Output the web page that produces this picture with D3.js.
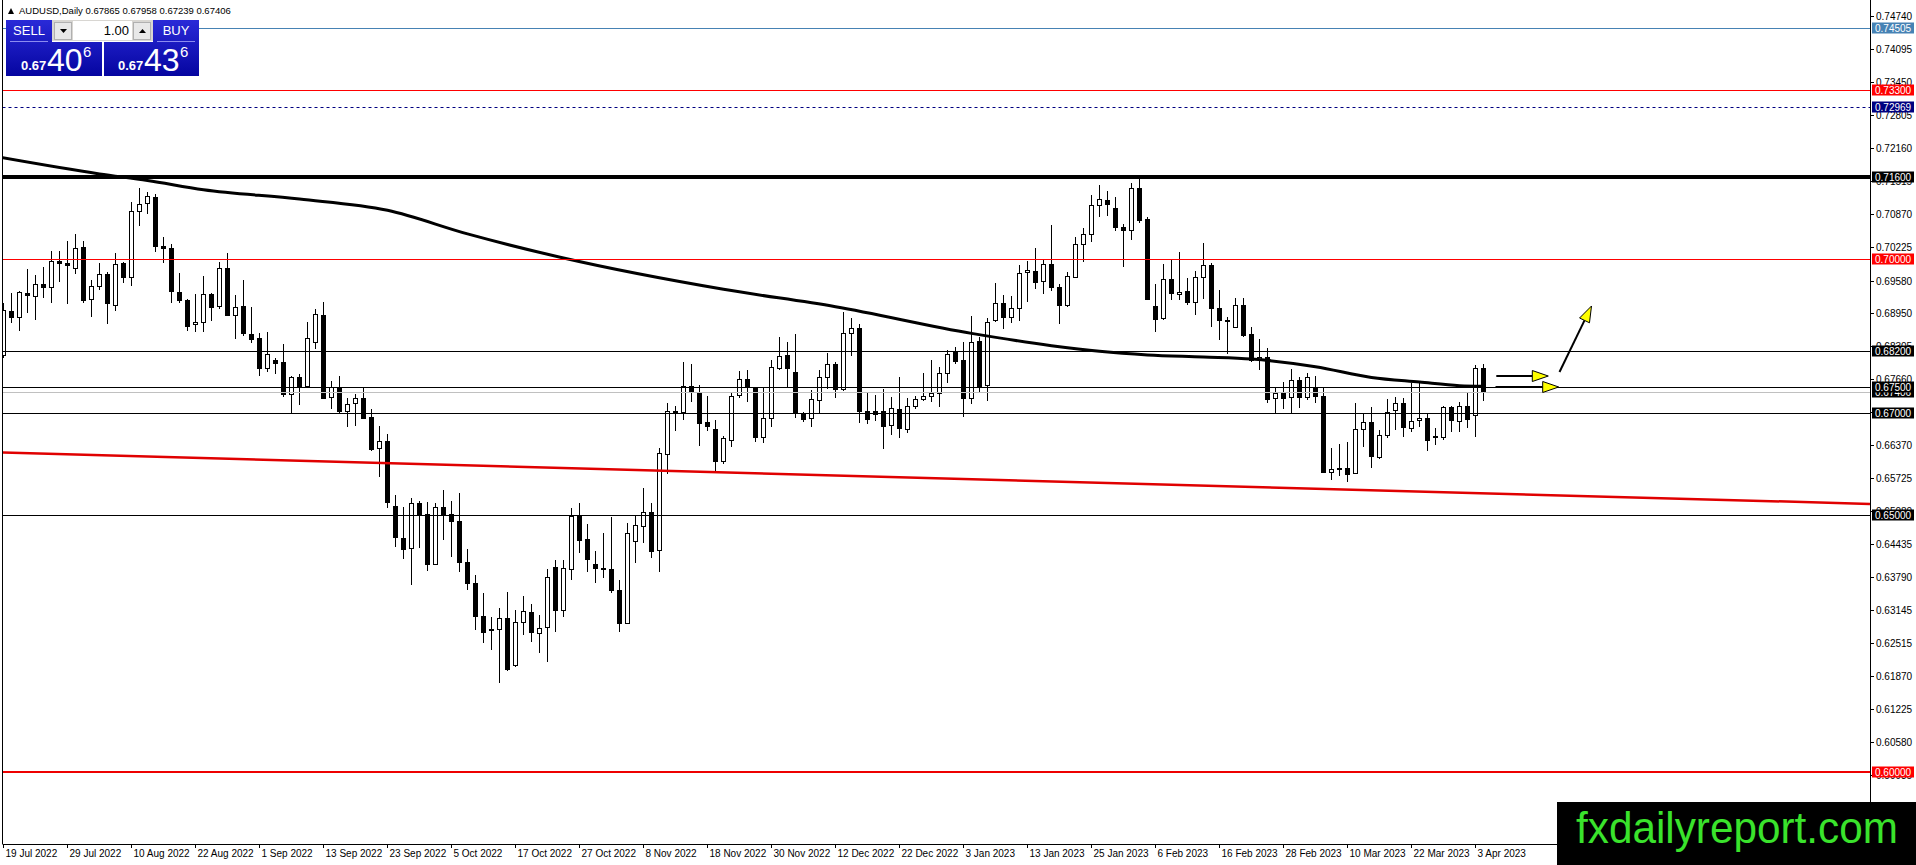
<!DOCTYPE html>
<html lang="en">
<head>
<meta charset="UTF-8">
<title>AUDUSD,Daily</title>
<style>
  html, body { margin: 0; padding: 0; background: #fff; overflow: hidden; }
  svg { display: block; font-family: "Liberation Sans", Arial, sans-serif; }
</style>
</head>
<body>
<svg id="chart" width="1916" height="865"></svg>
<script src="https://cdn.jsdelivr.net/npm/d3@7"></script>
<script>
// AUDUSD daily bars, bar 0 = 19 Jul 2022 ... bar 185 = 4 Apr 2023
const open = [
  0.68129,0.68993,0.68863,0.69331,0.69279,0.69507,0.69461,0.69962,0.69916,0.69819,
  0.70228,0.69214,0.69474,0.69702,0.69097,0.69916,0.69643,0.70937,0.71099,0.71203,
  0.70254,0.70209,0.69351,0.69201,0.68727,0.68766,0.69318,0.69084,0.69819,0.68909,
  0.69084,0.68538,0.68454,0.67869,0.68031,0.67992,0.67362,0.67693,0.67511,0.68389,
  0.68909,0.67303,0.67498,0.67037,0.67186,0.67284,0.66925,0.66308,0.66451,0.65183,
  0.64566,0.64358,0.65235,0.65021,0.64046,0.65157,0.65021,0.64891,0.64085,0.63675,
  0.63038,0.62785,0.62778,0.62993,0.62083,0.62915,0.63110,0.62720,0.62811,0.63987,
  0.63142,0.63948,0.64995,0.64533,0.64046,0.63968,0.63948,0.63545,0.62895,0.64501,
  0.64806,0.65073,0.64312,0.66210,0.67024,0.67024,0.67531,0.67414,0.66816,0.66679,
  0.66049,0.66484,0.67342,0.67654,0.67498,0.66523,0.66894,0.67888,0.68129,0.67797,
  0.66978,0.66894,0.67264,0.67693,0.67947,0.67459,0.68551,0.68649,0.67037,0.67043,
  0.67037,0.66751,0.67076,0.66699,0.67141,0.67264,0.67323,0.67381,0.67771,0.68194,
  0.68031,0.67284,0.68408,0.67531,0.68798,0.69136,0.68863,0.69039,0.69741,0.69767,
  0.69559,0.69897,0.69461,0.69104,0.69656,0.70287,0.70482,0.71054,0.71151,0.70989,
  0.70618,0.70553,0.71379,0.70774,0.69091,0.68844,0.69611,0.69331,0.69377,0.69169,
  0.69656,0.69884,0.69039,0.68811,0.68681,0.69104,0.68538,0.68051,0.68096,0.67303,
  0.67394,0.67303,0.67641,0.67303,0.67498,0.67329,0.65841,0.65919,0.65919,0.65821,
  0.66679,0.66816,0.66146,0.66569,0.67043,0.67186,0.66718,0.66848,0.66894,0.66549,
  0.66523,0.67108,0.66848,0.67134,0.66939,0.67865
];
const high = [
  0.69136,0.69331,0.69383,0.69806,0.69682,0.69851,0.70157,0.70157,0.70352,0.70488,
  0.70352,0.69591,0.69916,0.69754,0.70111,0.69936,0.71106,0.71379,0.71301,0.71262,
  0.70423,0.70287,0.69721,0.69221,0.69318,0.69669,0.69331,0.69936,0.70111,0.69299,
  0.69591,0.69058,0.68564,0.68577,0.68077,0.68343,0.67719,0.67758,0.68779,0.69019,
  0.69169,0.67622,0.67719,0.67284,0.67362,0.67492,0.67068,0.66743,0.66581,0.65398,
  0.65157,0.65333,0.65281,0.65255,0.65235,0.65495,0.65281,0.65430,0.64338,0.63838,
  0.63493,0.63012,0.63188,0.63500,0.63155,0.63428,0.63272,0.63058,0.63955,0.64130,
  0.64130,0.65138,0.65235,0.64832,0.64306,0.64650,0.64962,0.63740,0.64845,0.64988,
  0.65528,0.65235,0.66321,0.67185,0.67141,0.67999,0.67953,0.67544,0.67329,0.66861,
  0.66556,0.67407,0.67817,0.67836,0.67511,0.67511,0.68031,0.68473,0.68389,0.68538,
  0.67011,0.67446,0.67836,0.68161,0.67999,0.68961,0.68844,0.68733,0.67381,0.67349,
  0.67466,0.67303,0.67693,0.67284,0.67329,0.67771,0.68031,0.67888,0.68226,0.68278,
  0.68376,0.68889,0.68486,0.68844,0.69526,0.69299,0.69279,0.69884,0.69968,0.70209,
  0.69994,0.70664,0.69507,0.69754,0.70436,0.70599,0.71249,0.71444,0.71327,0.71216,
  0.70683,0.71476,0.71561,0.70826,0.69507,0.69897,0.69994,0.70144,0.69624,0.69773,
  0.70319,0.69916,0.69396,0.68876,0.69234,0.69234,0.68681,0.68441,0.68259,0.67479,
  0.67596,0.67856,0.67693,0.67771,0.67719,0.67511,0.66309,0.66393,0.66426,0.67186,
  0.66978,0.67121,0.66666,0.67264,0.67316,0.67284,0.67589,0.67589,0.66978,0.66699,
  0.67141,0.67141,0.67219,0.67401,0.67934,0.67958
];
const low = [
  0.68064,0.68746,0.68603,0.68954,0.68811,0.69247,0.69149,0.69559,0.69123,0.69702,
  0.69149,0.68876,0.69396,0.68727,0.68993,0.69539,0.69474,0.70651,0.70872,0.70131,
  0.69929,0.69136,0.69136,0.68603,0.68584,0.68584,0.68798,0.69032,0.68896,0.68434,
  0.68499,0.68369,0.67726,0.67804,0.67752,0.67316,0.66991,0.67147,0.67492,0.68246,
  0.67284,0.67069,0.67004,0.66718,0.66744,0.66874,0.66262,0.65755,0.65138,0.64390,
  0.64156,0.63643,0.64371,0.63922,0.64039,0.64520,0.64182,0.63903,0.63545,0.62765,
  0.62505,0.62375,0.61725,0.61966,0.62050,0.62668,0.62538,0.62310,0.62135,0.62733,
  0.63012,0.63740,0.64273,0.63903,0.63688,0.63786,0.63493,0.62733,0.62882,0.64078,
  0.64468,0.64163,0.63890,0.65807,0.66653,0.66861,0.67219,0.66361,0.66647,0.65873,
  0.66003,0.66341,0.67284,0.67219,0.66439,0.66419,0.66718,0.67836,0.67479,0.66894,
  0.66829,0.66718,0.66991,0.67466,0.67297,0.67433,0.68116,0.66796,0.66777,0.66848,
  0.66296,0.66569,0.66517,0.66614,0.67082,0.67225,0.67206,0.67121,0.67576,0.67947,
  0.66913,0.67173,0.67381,0.67238,0.68766,0.68629,0.68746,0.68798,0.69169,0.69416,
  0.69318,0.69383,0.68733,0.69071,0.69624,0.69949,0.70339,0.70813,0.70846,0.70547,
  0.69851,0.70371,0.70709,0.69201,0.68584,0.68811,0.69201,0.69201,0.69104,0.68909,
  0.69221,0.68668,0.68421,0.68142,0.68649,0.68486,0.67990,0.67836,0.67199,0.66991,
  0.67069,0.66972,0.67089,0.67251,0.67186,0.65821,0.65691,0.65776,0.65659,0.65808,
  0.66341,0.65919,0.66101,0.66504,0.66666,0.66523,0.66634,0.66718,0.66263,0.66374,
  0.66471,0.66634,0.66634,0.66712,0.66536,0.67239
];
const close = [
  0.69006,0.68876,0.69351,0.69292,0.69507,0.69442,0.69962,0.69916,0.69877,0.70209,
  0.69201,0.69474,0.69702,0.69136,0.69897,0.69643,0.70937,0.71067,0.71236,0.70241,
  0.70209,0.69364,0.69201,0.68701,0.68766,0.69312,0.69071,0.69819,0.68902,0.69058,
  0.68551,0.68434,0.67869,0.68142,0.67979,0.67362,0.67693,0.67511,0.68454,0.68928,
  0.67297,0.67498,0.67024,0.67167,0.67284,0.66894,0.66308,0.66451,0.65268,0.64572,
  0.64351,0.65235,0.65008,0.64039,0.65157,0.65008,0.64878,0.64098,0.63675,0.63025,
  0.62733,0.62759,0.62993,0.61998,0.62915,0.63136,0.62713,0.62811,0.63792,0.63142,
  0.63968,0.64988,0.64533,0.64143,0.63968,0.63942,0.63532,0.62895,0.64650,0.64806,
  0.65073,0.64312,0.66210,0.67042,0.67043,0.67531,0.67414,0.66816,0.66731,0.66049,
  0.66504,0.67336,0.67654,0.67498,0.66517,0.66894,0.67888,0.68116,0.67869,0.66991,
  0.66887,0.67264,0.67706,0.67947,0.67459,0.68551,0.68649,0.67024,0.66874,0.66991,
  0.66751,0.67089,0.66699,0.67141,0.67271,0.67323,0.67381,0.67771,0.68148,0.68018,
  0.67284,0.68376,0.67531,0.68766,0.69136,0.68863,0.69039,0.69721,0.69786,0.69559,
  0.69897,0.69442,0.69104,0.69676,0.70293,0.70482,0.71054,0.71164,0.71067,0.70618,
  0.70553,0.71379,0.70761,0.69221,0.68844,0.69611,0.69331,0.69364,0.69169,0.69656,
  0.69884,0.69039,0.68798,0.68792,0.69104,0.68519,0.68031,0.68096,0.67284,0.67394,
  0.67303,0.67641,0.67303,0.67693,0.67316,0.65854,0.65899,0.65893,0.65802,0.66679,
  0.66816,0.66146,0.66569,0.67011,0.67186,0.66718,0.66848,0.66894,0.66458,0.66523,
  0.67108,0.66848,0.67141,0.66874,0.67865,0.67406
];

const xLabels = ['19 Jul 2022','29 Jul 2022','10 Aug 2022','22 Aug 2022','1 Sep 2022','13 Sep 2022',
  '23 Sep 2022','5 Oct 2022','17 Oct 2022','27 Oct 2022','8 Nov 2022','18 Nov 2022','30 Nov 2022',
  '12 Dec 2022','22 Dec 2022','3 Jan 2023','13 Jan 2023','25 Jan 2023','6 Feb 2023','16 Feb 2023',
  '28 Feb 2023','10 Mar 2023','22 Mar 2023','3 Apr 2023'];
const xLabelBars = [0,8,16,24,32,40,48,56,64,72,80,88,96,104,112,120,128,136,144,152,160,168,176,184];

const yTicks = [0.74740,0.74095,0.73450,0.72805,0.72160,0.71515,0.70870,0.70225,0.69580,0.68950,
  0.68305,0.67660,0.67015,0.66370,0.65725,0.65080,0.64435,0.63790,0.63145,0.62515,0.61870,
  0.61225,0.60580,0.59935];

// horizontal levels drawn on the chart
const levels = [0.74505,0.73300,0.72969,0.71600,0.70000,0.68200,0.67500,0.67000,0.65000,0.60000];
const bid = 0.67406;
const ask = 0.67436;

// moving average
const maBars   = [-1,12,18,25,37,48,58,70,90,104,121,131,137,143,150,156,164,171,177,182,185];
const maValues = [0.7200,0.7166,0.7153,0.7135,0.7117,0.7095,0.7049,0.7002,0.6941,0.6907,0.6855,
  0.6831,0.6820,0.6813,0.6809,0.6805,0.6790,0.6769,0.6760,0.6753,0.6752];

// red support trend line (ray)
const trendBars   = [0,185];
const trendPrices = [0.66224,0.65431];

// analysis arrows
const arrowFromBar   = [186.6,186.5,194.5];
const arrowFromPrice = [0.67718,0.67504,0.67796];
const arrowToBar     = [193.1,194.4,198.5];
const arrowToPrice   = [0.67718,0.67504,0.69084];

const levelStyle = {
  '0.74505': { stroke: '#4682b4', w: 1, bg: '#4682b4' },
  '0.73300': { stroke: '#ff0000', w: 1, bg: '#ff0000' },
  '0.72969': { stroke: '#000080', w: 1, bg: '#000080', dash: '3,3' },
  '0.71600': { stroke: '#000000', w: 4, bg: '#000000' },
  '0.70000': { stroke: '#ff0000', w: 1, bg: '#ff0000' },
  '0.68200': { stroke: '#000000', w: 1, bg: '#000000' },
  '0.67500': { stroke: '#000000', w: 1, bg: '#000000' },
  '0.67000': { stroke: '#000000', w: 1, bg: '#000000' },
  '0.65000': { stroke: '#000000', w: 1, bg: '#000000' },
  '0.60000': { stroke: '#ee0000', w: 2, bg: '#ff0000' }
};

const f5 = d3.format('.5f');
const plotL = 2.5, plotR = 1870, plotB = 844;

const x = d3.scaleLinear().domain([0, 185]).range([3.5, 1483.5]);
const y = d3.scaleLinear().domain([0.74740, 0.60580]).range([16, 742]);
const crisp = (v, w) => (w % 2 === 1 ? Math.round(v) + 0.5 : Math.round(v));

const svg = d3.select('#chart');
const defs = svg.append('defs');
defs.append('clipPath').attr('id', 'plot')
  .append('rect').attr('x', 3).attr('y', 0).attr('width', plotR - 3).attr('height', plotB);
const grad = defs.append('linearGradient').attr('id', 'btn')
  .attr('x1', 0).attr('y1', 0).attr('x2', 0).attr('y2', 1);
grad.append('stop').attr('offset', '0%').attr('stop-color', '#2a2ad8');
grad.append('stop').attr('offset', '100%').attr('stop-color', '#0505a0');

svg.append('rect').attr('width', 1916).attr('height', 865).attr('fill', '#fff');

const plot = svg.append('g').attr('clip-path', 'url(#plot)');

// candles
const bars = d3.range(open.length);
plot.append('g').selectAll('line').data(bars).join('line')
  .attr('x1', i => x(i)).attr('x2', i => x(i))
  .attr('y1', i => Math.round(y(high[i]))).attr('y2', i => Math.round(y(low[i])))
  .attr('stroke', '#000').attr('stroke-width', 1);
plot.append('g').selectAll('rect').data(bars).join('rect')
  .attr('x', i => x(i) - 2).attr('width', 4)
  .attr('y', i => Math.round(y(Math.max(open[i], close[i]))) + 0.5)
  .attr('height', i => Math.max(1, Math.round(Math.abs(y(open[i]) - y(close[i])))))
  .attr('fill', i => close[i] >= open[i] ? '#fff' : '#000')
  .attr('stroke', '#000').attr('stroke-width', 1);

// moving average
const maLine = d3.line().curve(d3.curveMonotoneX)
  .x(i => x(maBars[i])).y(i => y(maValues[i]));
plot.append('path').attr('d', maLine(d3.range(maBars.length)))
  .attr('fill', 'none').attr('stroke', '#000').attr('stroke-width', 3);

// horizontal levels
plot.append('g').selectAll('line').data(levels).join('line')
  .attr('x1', plotL).attr('x2', plotR)
  .attr('y1', p => crisp(y(p), levelStyle[f5(p)].w))
  .attr('y2', p => crisp(y(p), levelStyle[f5(p)].w))
  .attr('stroke', p => levelStyle[f5(p)].stroke)
  .attr('stroke-width', p => levelStyle[f5(p)].w)
  .attr('stroke-dasharray', p => levelStyle[f5(p)].dash || null);

// bid line
plot.append('line').attr('x1', plotL).attr('x2', plotR)
  .attr('y1', crisp(y(bid), 1)).attr('y2', crisp(y(bid), 1))
  .attr('stroke', '#c0c0c0').attr('stroke-width', 1);

// trend line as a ray to the right edge
const tx0 = x(trendBars[0]), ty0 = y(trendPrices[0]);
const tx1 = x(trendBars[1]), ty1 = y(trendPrices[1]);
const slope = (ty1 - ty0) / (tx1 - tx0);
plot.append('line')
  .attr('x1', 0).attr('y1', ty0 - slope * tx0)
  .attr('x2', plotR).attr('y2', ty0 + slope * (plotR - tx0))
  .attr('stroke', '#e00000').attr('stroke-width', 2.5);

// arrows
const arrows = plot.append('g');
arrowFromBar.forEach((b, k) => {
  const x0 = x(b), y0 = y(arrowFromPrice[k]);
  const x1 = x(arrowToBar[k]), y1 = y(arrowToPrice[k]);
  const len = Math.hypot(x1 - x0, y1 - y0);
  const ux = (x1 - x0) / len, uy = (y1 - y0) / len;
  const hl = 16, hw = 5.5;
  const bx = x1 - ux * hl, by = y1 - uy * hl;
  arrows.append('line').attr('x1', x0).attr('y1', y0).attr('x2', bx).attr('y2', by)
    .attr('stroke', '#000').attr('stroke-width', 2);
  arrows.append('path')
    .attr('d', `M${x1},${y1}L${bx - uy * hw},${by + ux * hw}L${bx + uy * hw},${by - ux * hw}Z`)
    .attr('fill', '#ffff00').attr('stroke', '#000').attr('stroke-width', 1);
});

// frame
svg.append('line').attr('x1', plotL).attr('x2', plotL).attr('y1', 0).attr('y2', plotB)
  .attr('stroke', '#000');
svg.append('line').attr('x1', plotR + 0.5).attr('x2', plotR + 0.5).attr('y1', 0).attr('y2', plotB + 0.5)
  .attr('stroke', '#000');
svg.append('line').attr('x1', plotL).attr('x2', plotR + 0.5).attr('y1', plotB + 0.5).attr('y2', plotB + 0.5)
  .attr('stroke', '#000');

// bottom axis
const xAxis = svg.append('g').attr('font-size', 10).attr('fill', '#000');
xLabelBars.forEach((b, k) => {
  const px = Math.round(x(b)) - 0.5;
  xAxis.append('line').attr('x1', px).attr('x2', px).attr('y1', plotB).attr('y2', plotB + 4)
    .attr('stroke', '#000');
  xAxis.append('text').attr('x', px + 2).attr('y', plotB + 13).text(xLabels[k]);
});

// right axis ticks
const yAxis = svg.append('g').attr('font-size', 10).attr('fill', '#000');
yTicks.forEach(p => {
  const py = Math.round(y(p)) + 0.5;
  yAxis.append('line').attr('x1', plotR).attr('x2', plotR + 4).attr('y1', py).attr('y2', py)
    .attr('stroke', '#000');
  yAxis.append('text').attr('x', plotR + 6).attr('y', py + 3.5).text(f5(p));
});

// price labels on the axis
const tags = svg.append('g').attr('font-size', 10);
function tag(p, bg) {
  const py = Math.round(y(p));
  tags.append('rect').attr('x', plotR + 2).attr('y', py - 5.5).attr('width', 42).attr('height', 11)
    .attr('fill', bg);
  tags.append('text').attr('x', plotR + 5).attr('y', py + 3.5).attr('fill', '#fff').text(f5(p));
}
tag(bid, '#000');
levels.forEach(p => tag(p, levelStyle[f5(p)].bg));

// header
svg.append('path').attr('d', 'M8,14 L14,14 L11,8 Z').attr('fill', '#000');
svg.append('text').attr('x', 19).attr('y', 14).attr('font-size', 9.5).attr('fill', '#000')
  .text('AUDUSD,Daily  ' + [open, high, low, close].map(a => f5(a[a.length - 1])).join(' '));

// one-click trading panel
const panel = svg.append('g');
panel.append('path').attr('d', 'M6,20H52V42H102V76H6Z').attr('fill', 'url(#btn)');
panel.append('path').attr('d', 'M153,20H199V76H104V42H153Z').attr('fill', 'url(#btn)');
panel.append('rect').attr('x', 52).attr('y', 20).attr('width', 101).attr('height', 21).attr('fill', '#d8d6d2');
panel.append('rect').attr('x', 73).attr('y', 21).attr('width', 59).attr('height', 19).attr('fill', '#fff');
[[54, 'M60,29H67L63.5,33Z'], [133, 'M139,33H146L142.5,29Z']].forEach(([bx, d]) => {
  panel.append('rect').attr('x', bx + 0.5).attr('y', 22.5).attr('width', 17).attr('height', 17)
    .attr('fill', '#e8e8e8').attr('stroke', '#b0b0b0');
  panel.append('path').attr('d', d).attr('fill', '#000');
});
panel.append('text').attr('x', 129).attr('y', 35).attr('text-anchor', 'end')
  .attr('font-size', 13).attr('fill', '#000').text('1.00');
[['SELL', 29], ['BUY', 176]].forEach(([t, cx]) => {
  panel.append('text').attr('x', cx).attr('y', 35).attr('text-anchor', 'middle')
    .attr('font-size', 13).attr('fill', '#fff').text(t);
  panel.append('line').attr('x1', cx - 19).attr('x2', cx + 19).attr('y1', 41.5).attr('y2', 41.5)
    .attr('stroke', '#8c8cf0');
});
[[bid, 21], [ask, 118]].forEach(([p, px]) => {
  const s = f5(p);
  panel.append('text').attr('x', px).attr('y', 70).attr('font-size', 13).attr('font-weight', 'bold')
    .attr('fill', '#fff').text(s.slice(0, 4));
  panel.append('text').attr('x', px + 26).attr('y', 71).attr('font-size', 32)
    .attr('fill', '#fff').text(s.slice(4, 6));
  panel.append('text').attr('x', px + 62).attr('y', 57).attr('font-size', 15)
    .attr('fill', '#fff').text(s.slice(6));
});

// watermark
svg.append('rect').attr('x', 1557).attr('y', 802).attr('width', 359).attr('height', 63).attr('fill', '#000');
svg.append('text').attr('x', 1576).attr('y', 843).attr('font-size', 44)
  .attr('textLength', 322).attr('lengthAdjust', 'spacingAndGlyphs')
  .attr('fill', '#3ae32c').text('fxdailyreport.com');
</script>
</body>
</html>
